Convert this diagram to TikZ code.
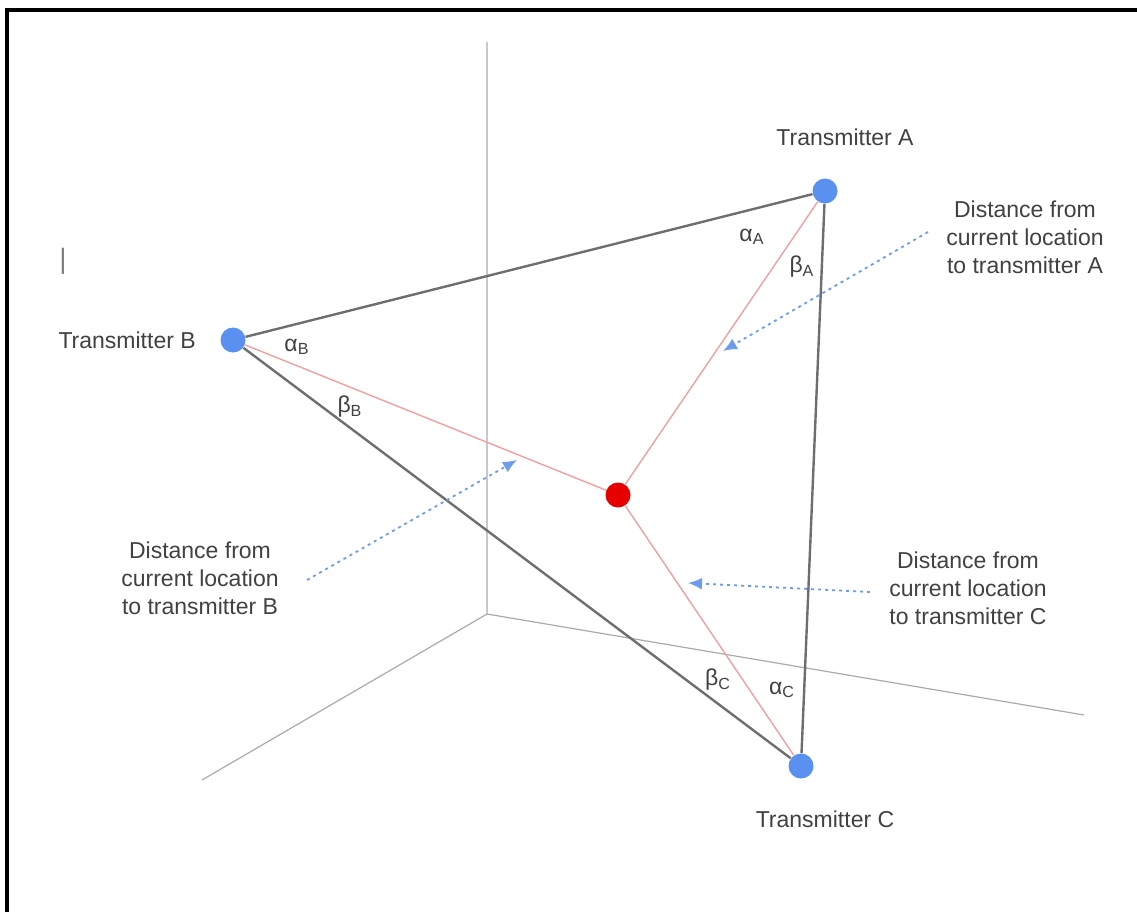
\documentclass[tikz,border=0pt]{standalone}
\usepackage{fontspec}
\setmainfont{Liberation Sans}
\usepackage{tikz}
\usetikzlibrary{arrows.meta, positioning}
\definecolor{dotblue}{RGB}{90,145,240}
\definecolor{dotred}{RGB}{230,0,0}
\definecolor{linkred}{RGB}{240,160,160}
\definecolor{linkgray}{RGB}{110,110,110}
\definecolor{axisgray}{RGB}{170,170,170}
\definecolor{hintblue}{RGB}{110,155,235}
\definecolor{textgray}{RGB}{65,65,65}

\begin{document}
\begin{tikzpicture} [
        x = 0.5pt, y = -0.5pt,
        station/.style = {circle, fill=dotblue, minimum size=12.5pt, inner sep=0pt},
        current/.style = {circle, fill=dotred, minimum size=12.5pt, inner sep=0pt},
        txt/.style = {font=\fontsize{11.5}{14}\selectfont, text=textgray, align=center, inner sep=0pt},
        sideline/.style = {draw=linkgray, line width=1.2pt},
        reachline/.style = {draw=linkred, line width=0.7pt},
        axisline/.style = {draw=axisgray, line width=0.6pt},
        pointer/.style = {draw=hintblue, line width=0.9pt, dash pattern=on 1.5pt off 2pt, -{Latex[length=7pt,width=6pt]}},
        framebox/.style = {draw=black, line width=1.6pt}
    ]

    \useasboundingbox (0,0) rectangle (1137,912);
    \draw[framebox] (7,912) -- (7,10) -- (1137,10);

    % axes
    \coordinate (O) at (487,614);
    \coordinate (zTop) at (487,42);
    \coordinate (xEnd) at (202,780);
    \coordinate (yEnd) at (1084,715);
    \draw[axisline] (zTop) -- (O) -- (xEnd);
    \draw[axisline] (O) -- (yEnd);

    % transmitters and current location
    \node[station] (A) at (825,191) {};
    \node[station] (B) at (233,340) {};
    \node[station] (C) at (801,766) {};
    \node[current] (P) at (618,495) {};

    \node[txt, above=16pt of A, xshift=10pt] (nameA) {Transmitter A};
    \node[txt, left=12pt of B]               (nameB) {Transmitter B};
    \node[txt, below=16pt of C, xshift=12pt] (nameC) {Transmitter C};

    \path[sideline] (A) -- (B) -- (C) -- (A);
    \path[reachline] (P) -- (A);
    \path[reachline] (P) -- (B);
    \path[reachline] (P) -- (C);

    % angles
    \node[txt] (aA) at (752,237) {α\textsubscript{A}};
    \node[txt] (bA) at (802,267) {β\textsubscript{A}};
    \node[txt] (aB) at (297,347) {α\textsubscript{B}};
    \node[txt] (bB) at (350,407) {β\textsubscript{B}};
    \node[txt] (bC) at (718,680) {β\textsubscript{C}};
    \node[txt] (aC) at (782,690) {α\textsubscript{C}};

    % distance notes
    \node[txt] (noteA) at (1025,237) {Distance from\\current location\\to transmitter A};
    \node[txt] (noteB) at (200,578)  {Distance from\\current location\\to transmitter B};
    \node[txt] (noteC) at (968,588)  {Distance from\\current location\\to transmitter C};

    \coordinate (tailA) at (928,232);
    \coordinate (tipA)  at (723,351);
    \coordinate (tailB) at (307,580);
    \coordinate (tipB)  at (517,460);
    \coordinate (tailC) at (870,592);
    \coordinate (tipC)  at (688,583);
    \draw[pointer] (tailA) -- (tipA);
    \draw[pointer] (tailB) -- (tipB);
    \draw[pointer] (tailC) -- (tipC);

    \node[txt, font=\fontsize{14}{14}\selectfont, text=gray] (cursor) at (63,261) {|};

\end{tikzpicture}
\end{document}
